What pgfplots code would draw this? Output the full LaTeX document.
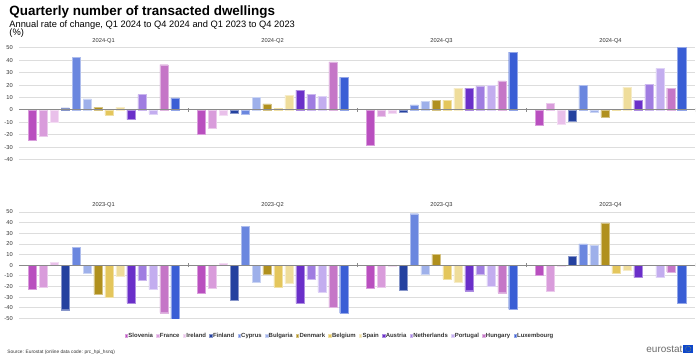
\documentclass[border=0pt]{standalone}
\usepackage{pgfplots}
\pgfplotsset{compat=1.18}
\usepackage{fontspec}
\setmainfont{Liberation Sans}
\definecolor{cSI}{HTML}{B94FBF}
\definecolor{cFR}{HTML}{D99CDB}
\definecolor{cIE}{HTML}{E9C0EA}
\definecolor{cFI}{HTML}{24419F}
\definecolor{cCY}{HTML}{6B87DF}
\definecolor{cBG}{HTML}{9EB0EA}
\definecolor{cDK}{HTML}{B0901E}
\definecolor{cBE}{HTML}{E4C65C}
\definecolor{cES}{HTML}{EFDD9B}
\definecolor{cAT}{HTML}{6A2FC9}
\definecolor{cNL}{HTML}{A07DE1}
\definecolor{cPT}{HTML}{C3ADEF}
\definecolor{cHU}{HTML}{C576C7}
\definecolor{cLU}{HTML}{3A5ED5}
\definecolor{gridgray}{HTML}{DDDDDD}
\definecolor{zerogray}{HTML}{8A8A8A}
\definecolor{tickgray}{HTML}{333333}
\definecolor{eublue}{HTML}{0E47CB}
\tikzset{zeroline/.style={zerogray, line width=0.6pt}}
\pgfplotsset{
  panel/.style={
    scale only axis, width=508.5pt, xmin=-0.5, xmax=3.5,
    ybar=2.05pt, bar width=6.2pt,
    axis line style={draw=none},
    xtick={0,1,2,3}, xticklabel pos=upper, major tick length=0pt,
    ymajorgrids, grid style={draw=gridgray, line width=0.6pt},
    ytick distance=10,
    tick label style={font=\fontsize{4.3}{5}\selectfont, text=tickgray},
    /pgf/number format/assume math mode=true,
    yticklabel style={xshift=-1.3pt},
    xticklabel style={yshift=-0.5pt},
    anchor=north west,
  },
  bs/.style={fill=#1, draw=#1!55!white, line width=0.3pt},
}
\newcommand{\zeroaxis}{%
  \draw[zeroline] (axis cs:-0.5,0) -- (axis cs:3.5,0);
  \draw[zeroline] ([yshift=-1.5pt]axis cs:0.5,0) -- ([yshift=1.5pt]axis cs:0.5,0);
  \draw[zeroline] ([yshift=-1.5pt]axis cs:1.5,0) -- ([yshift=1.5pt]axis cs:1.5,0);
  \draw[zeroline] ([yshift=-1.5pt]axis cs:2.5,0) -- ([yshift=1.5pt]axis cs:2.5,0);
  \draw[zeroline] ([yshift=-1.5pt]axis cs:3.5,0) -- ([yshift=1.5pt]axis cs:3.5,0);
}
\begin{document}
\begin{tikzpicture}[x=1pt,y=1pt]
\path (0,0) rectangle (525,-271.5);
\node[anchor=base west, inner sep=0, font=\fontsize{10.1}{12}\selectfont\bfseries] at (5.25,-12) {Quarterly number of transacted dwellings};
\node[anchor=base west, inner sep=0, font=\fontsize{7}{8}\selectfont] at (5.25,-20.6) {Annual rate of change, Q1 2024 to Q4 2024 and Q1 2023 to Q4 2023};
\node[anchor=base west, inner sep=0, font=\fontsize{7}{8}\selectfont] at (5.25,-27) {(\%)};

\begin{axis}[panel, at={(12.75pt,-36pt)}, height=84pt, ymin=-40, ymax=50,
  xticklabels={2024-Q1,2024-Q2,2024-Q3,2024-Q4}]
\addplot[bs=cSI] coordinates {(0,-24.6) (1,-19.8) (2,-28.3) (3,-12.6)};
\addplot[bs=cFR] coordinates {(0,-21.0) (1,-14.4) (2,-5.1) (3,5.3)};
\addplot[bs=cIE] coordinates {(0,-10.0) (1,-4.3) (2,-2.7) (3,-11.2)};
\addplot[bs=cFI] coordinates {(0,1.6) (1,-2.7) (2,-1.6) (3,-8.8)};
\addplot[bs=cCY] coordinates {(0,42.5) (1,-3.7) (2,4.0) (3,19.8)};
\addplot[bs=cBG] coordinates {(0,8.8) (1,9.9) (2,6.7) (3,-1.9)};
\addplot[bs=cDK] coordinates {(0,2.0) (1,4.8) (2,7.5) (3,-5.6)};
\addplot[bs=cBE] coordinates {(0,-4.0) (1,1.1) (2,7.8) (3,0.3)};
\addplot[bs=cES] coordinates {(0,2.0) (1,11.8) (2,17.6) (3,18.4)};
\addplot[bs=cAT] coordinates {(0,-7.8) (1,16.0) (2,17.6) (3,7.8)};
\addplot[bs=cNL] coordinates {(0,12.3) (1,12.8) (2,19.3) (3,20.6)};
\addplot[bs=cPT] coordinates {(0,-3.2) (1,11.0) (2,19.8) (3,33.4)};
\addplot[bs=cHU] coordinates {(0,36.4) (1,38.8) (2,23.3) (3,17.6)};
\addplot[bs=cLU] coordinates {(0,9.6) (1,26.5) (2,46.5) (3,50.5)};
\zeroaxis
\end{axis}

\begin{axis}[panel, at={(12.75pt,-159.5pt)}, height=80pt, ymin=-50, ymax=50,
  xticklabels={2023-Q1,2023-Q2,2023-Q3,2023-Q4},
  legend columns=14,
  legend style={at={(0.474,-0.165)}, anchor=center, draw=none, fill=none, inner sep=0pt,
    nodes={inner sep=0.6pt}, cells={anchor=base},
    font=\fontsize{4.5}{5}\selectfont\bfseries, text=tickgray,
    /tikz/every even column/.append style={column sep=1.9pt}},
  legend image code/.code={\fill[#1] (0pt,0pt) rectangle (1.8pt,1.8pt);}]
\addplot[bs=cSI] coordinates {(0,-22.2) (1,-26.3) (2,-21.3) (3,-9.1)};
\addplot[bs=cFR] coordinates {(0,-20.3) (1,-21.9) (2,-20.3) (3,-24.7)};
\addplot[bs=cIE] coordinates {(0,2.8) (1,1.9) (2,-1.2) (3,-0.5)};
\addplot[bs=cFI] coordinates {(0,-41.9) (1,-32.8) (2,-23.8) (3,8.1)};
\addplot[bs=cCY] coordinates {(0,16.9) (1,36.6) (2,48.4) (3,20.0)};
\addplot[bs=cBG] coordinates {(0,-7.5) (1,-15.9) (2,-8.8) (3,18.8)};
\addplot[bs=cDK] coordinates {(0,-27.2) (1,-8.4) (2,10.0) (3,39.7)};
\addplot[bs=cBE] coordinates {(0,-30.3) (1,-20.3) (2,-13.1) (3,-7.8)};
\addplot[bs=cES] coordinates {(0,-10.6) (1,-16.6) (2,-15.6) (3,-4.4)};
\addplot[bs=cAT] coordinates {(0,-35.6) (1,-35.9) (2,-24.0) (3,-11.6)};
\addplot[bs=cNL] coordinates {(0,-14.0) (1,-13.1) (2,-8.8)};
\addplot[bs=cPT] coordinates {(0,-22.8) (1,-25.0) (2,-19.4) (3,-11.6)};
\addplot[bs=cHU] coordinates {(0,-44.7) (1,-39.4) (2,-25.9) (3,-6.3)};
\addplot[bs=cLU] coordinates {(0,-50.5) (1,-45.0) (2,-41.6) (3,-36.0)};
\legend{Slovenia,France,Ireland,Finland,Cyprus,Bulgaria,Denmark,Belgium,Spain,Austria,Netherlands,Portugal,Hungary,Luxembourg}
\zeroaxis
\end{axis}

\node[anchor=base west, inner sep=0, font=\fontsize{3.6}{4}\selectfont, text=tickgray] at (3.75,-266) {Source: Eurostat (online data code: prc\_hpi\_hsnq)};
\node[anchor=east, inner sep=0, font=\fontsize{7.5}{8}\selectfont, text=black!58] at (512,-262.5) {eurostat};
\fill[eublue] (512.5,-259.5) rectangle (519.75,-265.5);
\foreach \ang in {0,30,...,330} {\fill[yellow!90!orange] (516.1,-262.5) ++(\ang:1.9) circle (0.22);}
\end{tikzpicture}
\end{document}
